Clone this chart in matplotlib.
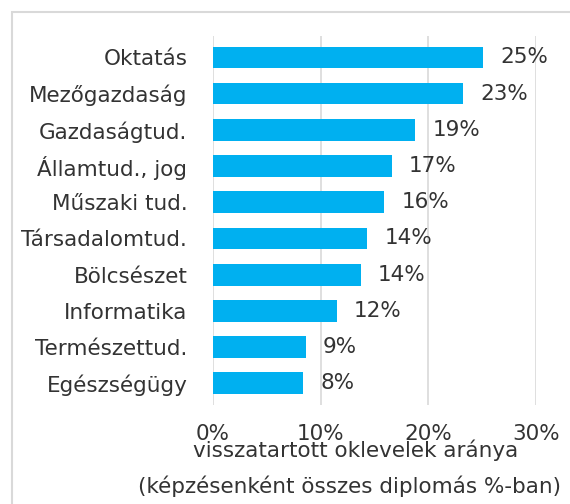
import matplotlib
matplotlib.use("Agg")
import matplotlib.pyplot as plt
from matplotlib.patches import Rectangle

## Data

categories = ["Oktatás", "Mezőgazdaság", "Gazdaságtud.", "Államtud., jog", "Műszaki tud.",
              "Társadalomtud.", "Bölcsészet", "Informatika", "Természettud.", "Egészségügy"]
shares = [0.251, 0.232, 0.188, 0.166, 0.159, 0.143, 0.137, 0.115, 0.086, 0.084]
value_labels = ["25%", "23%", "19%", "17%", "16%", "14%", "14%", "12%", "9%", "8%"]
xticks = [0, 0.10, 0.20, 0.30]
xtick_labels = ["0%", "10%", "20%", "30%"]
xlabel_lines = ["visszatartott oklevelek aránya", "(képzésenként összes diplomás %-ban)"]

plt.rcParams['font.family'] = ['DejaVu Sans']
fs = 15.5
txt_color = "#333333"

fig = plt.figure(figsize=(5.7, 5.04), dpi=100)
ax = fig.add_axes([213 / 570, 1 - 405 / 504, 323 / 570, 369 / 504])

pos = list(range(len(categories)))
ax.barh(pos, shares, height=0.6, color="#00B0F0", zorder=3)
for p, v, lab in zip(pos, shares, value_labels):
    ax.text(v + 0.016, p, lab, va="center", ha="left", fontsize=fs, color=txt_color, zorder=4)

ax.set_yticks(pos)
ax.set_yticklabels(categories, fontsize=fs, color=txt_color)
ax.set_ylim(9.6, -0.59)
ax.set_xlim(0, 0.30)
ax.set_xticks(xticks)
ax.set_xticklabels(xtick_labels, fontsize=fs, color=txt_color)
ax.tick_params(axis="both", length=0)
ax.tick_params(axis="y", pad=18.5)
ax.tick_params(axis="x", pad=14)
ax.xaxis.grid(True, color="#D9D9D9", lw=1.2, zorder=0)
for s in ["top", "right", "bottom", "left"]:
    ax.spines[s].set_visible(False)

fig.text(356 / 570, 1 - 457 / 504, xlabel_lines[0], ha="center", va="baseline", fontsize=fs, color=txt_color)
fig.text(350 / 570, 1 - 493 / 504, xlabel_lines[1], ha="center", va="baseline", fontsize=fs, color=txt_color)

# light grey frame of the chart area (cut off at right and bottom)
fig.patches.append(Rectangle((12 / 570, -0.1), 1.2, 1.1 - 12 / 504, transform=fig.transFigure,
                             fill=False, edgecolor="#D9D9D9", lw=1.5, clip_on=False))

fig.savefig("out.png", dpi=100)
